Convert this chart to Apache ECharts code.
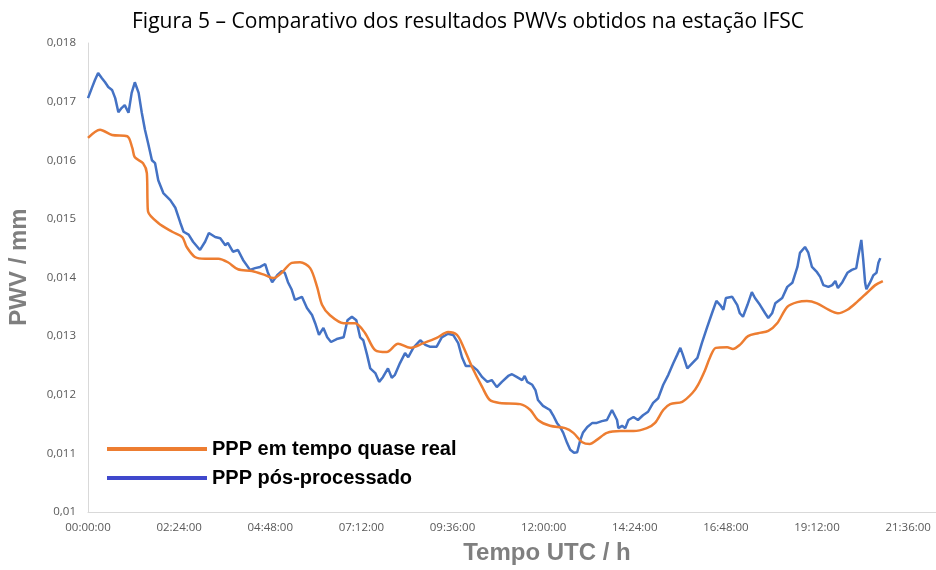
<!DOCTYPE html>
<html>
<head>
<meta charset="utf-8">
<title>Figura 5</title>
<script src="https://cdn.jsdelivr.net/npm/echarts@6/dist/echarts.min.js"></script>
<style>
  html, body { margin: 0; padding: 0; background: #fff; }
  #main { width: 936px; height: 570px; }
</style>
</head>
<body>
<div id="main"></div>
<script>
// tempo em minutos desde 00:00 UTC, PWV
var rtTime = [0, 19, 38, 62, 70, 74, 87, 93, 94, 95, 111, 133, 149, 156, 169, 185, 206, 221, 237, 259,
  280, 293, 306, 322, 335, 351, 362, 370, 382, 404, 422, 438, 454, 472, 490, 509, 530, 551, 569, 583,
  593, 607, 623, 635, 651, 683, 699, 711, 730, 754, 767, 781, 793, 804, 820, 841, 862, 883, 896, 909,
  920, 939, 955, 964, 975, 983, 992, 1010, 1019, 1030, 1043, 1059, 1075, 1089, 1105, 1121, 1136, 1152,
  1170, 1185, 1200, 1215, 1231, 1244, 1256];
var rtPwv = [0.01638, 0.01652, 0.01643, 0.01641, 0.01621, 0.01605, 0.01595, 0.01578, 0.01532, 0.01512,
  0.01493, 0.01478, 0.01469, 0.01452, 0.01435, 0.01432, 0.01432, 0.01426, 0.01414, 0.01411,
  0.01404, 0.01399, 0.01408, 0.01425, 0.01426, 0.01416, 0.01384, 0.01353, 0.01336, 0.01322,
  0.01322, 0.01305, 0.01276, 0.01273, 0.01287, 0.01280, 0.01288, 0.01297, 0.01307, 0.01302,
  0.01282, 0.01247, 0.01213, 0.01191, 0.01186, 0.01184, 0.01174, 0.01157, 0.01147, 0.01143,
  0.01135, 0.01119, 0.01116, 0.01123, 0.01135, 0.01138, 0.01138, 0.01143, 0.01152, 0.01174,
  0.01184, 0.01188, 0.01203, 0.01217, 0.01242, 0.01264, 0.01280, 0.01281, 0.01278, 0.01285,
  0.01300, 0.01305, 0.01309, 0.01322, 0.01350, 0.01358, 0.01360, 0.01356, 0.01345, 0.01339,
  0.01345, 0.01358, 0.01374, 0.01387, 0.01394];

var ppTime = [0, 6, 11, 16, 22, 27, 32, 38, 43, 48, 53, 58, 64, 69, 74, 80, 85, 90, 95, 101,
  106, 111, 119, 130, 138, 146, 151, 159, 166, 177, 185, 191, 201, 209, 217, 221, 229, 237, 245, 256,
  264, 272, 280, 284, 291, 299, 306, 311, 316, 322, 327, 338, 346, 354, 359, 365, 372, 378, 384, 393,
  404, 410, 417, 424, 430, 435, 441, 446, 454, 460, 466, 474, 480, 485, 493, 501, 506, 514, 525, 533,
  540, 551, 559, 569, 577, 585, 591, 597, 607, 615, 623, 631, 638, 646, 654, 664, 670, 678, 686, 690,
  694, 702, 707, 711, 719, 730, 735, 741, 746, 751, 757, 762, 768, 773, 778, 782, 789, 797, 804, 812,
  820, 828, 831, 836, 838, 844, 849, 854, 862, 869, 877, 885, 893, 901, 909, 917, 925, 931, 936, 940,
  947, 955, 963, 970, 978, 986, 993, 999, 1004, 1008, 1018, 1026, 1030, 1035, 1042, 1049, 1054, 1062,
  1070, 1075, 1081, 1086, 1097, 1105, 1113, 1121, 1125, 1133, 1138, 1144, 1152, 1157, 1162, 1170,
  1176, 1181, 1185, 1192, 1200, 1207, 1214, 1217, 1222, 1225, 1228, 1230, 1236, 1241, 1246, 1249, 1252];
var ppPwv = [0.01706, 0.01723, 0.01737, 0.01749, 0.01740, 0.01733, 0.01725, 0.01720, 0.01706, 0.01682,
  0.01689, 0.01694, 0.01681, 0.01715, 0.01733, 0.01715, 0.01681, 0.01652, 0.01629, 0.01600,
  0.01595, 0.01566, 0.01544, 0.01532, 0.01519, 0.01493, 0.01478, 0.01473, 0.01461, 0.01447,
  0.01461, 0.01476, 0.01469, 0.01467, 0.01455, 0.01459, 0.01444, 0.01447, 0.01430, 0.01413,
  0.01416, 0.01418, 0.01423, 0.01409, 0.01392, 0.01404, 0.01411, 0.01408, 0.01392, 0.01379,
  0.01362, 0.01367, 0.01348, 0.01336, 0.01322, 0.01302, 0.01314, 0.01298, 0.01290, 0.01295,
  0.01298, 0.01327, 0.01333, 0.01327, 0.01298, 0.01293, 0.01268, 0.01245, 0.01237, 0.01222,
  0.01230, 0.01245, 0.01229, 0.01234, 0.01254, 0.01271, 0.01264, 0.01280, 0.01293, 0.01285,
  0.01282, 0.01282, 0.01298, 0.01304, 0.01302, 0.01288, 0.01264, 0.01249, 0.01249, 0.01242,
  0.01230, 0.01222, 0.01225, 0.01213, 0.01222, 0.01232, 0.01235, 0.01230, 0.01225, 0.01232,
  0.01222, 0.01217, 0.01208, 0.01191, 0.01181, 0.01174, 0.01165, 0.01152, 0.01145, 0.01135,
  0.01118, 0.01106, 0.01101, 0.01102, 0.01123, 0.01135, 0.01145, 0.01152, 0.01152, 0.01155,
  0.01157, 0.01174, 0.01176, 0.01157, 0.01143, 0.01147, 0.01143, 0.01157, 0.01162, 0.01157,
  0.01165, 0.01171, 0.01186, 0.01194, 0.01217, 0.01234, 0.01254, 0.01268, 0.01280, 0.01268,
  0.01245, 0.01254, 0.01263, 0.01288, 0.01314, 0.01339, 0.01360, 0.01353, 0.01345, 0.01365,
  0.01367, 0.01353, 0.01339, 0.01333, 0.01353, 0.01375, 0.01365, 0.01353, 0.01339, 0.01331,
  0.01339, 0.01356, 0.01365, 0.01384, 0.01391, 0.01418, 0.01442, 0.01452, 0.01443, 0.01418,
  0.01409, 0.01401, 0.01387, 0.01384, 0.01387, 0.01394, 0.01382, 0.01392, 0.01408, 0.01413,
  0.01416, 0.01435, 0.01464, 0.01430, 0.01391, 0.01380, 0.01392, 0.01404, 0.01408, 0.01425, 0.01433];

var seriesNames = ['PPP em tempo quase real', 'PPP pós-processado'];

var orange = '#ed7d31';
var blue = '#4472c4';
var legendBlue = '#3f48cc';
var gray = '#595959';

function pairs(t, v) {
    var out = [];
    for (var i = 0; i < t.length; i++) out.push([t[i], v[i]]);
    return out;
}
function pad(n) { return (n < 10 ? '0' : '') + n; }

var chart = echarts.init(document.getElementById('main'));

var option = {
    backgroundColor: '#fff',
    animation: false,
    title: {
        text: 'Figura 5 – Comparativo dos resultados PWVs obtidos na estação IFSC',
        left: 'center',
        top: 7,
        textStyle: { fontFamily: 'Open Sans', fontSize: 21, fontWeight: 'normal', color: '#000' }
    },
    // titulos dos eixos desenhados a mao, o do x nao fica centrado no eixo
    graphic: [{
        type: 'text',
        x: 19, y: 267,
        rotation: Math.PI / 2,
        style: {
            text: 'PWV / mm', font: 'bold 24px "Liberation Sans"', fill: '#7f7f7f',
            textAlign: 'center', textVerticalAlign: 'middle'
        }
    }, {
        type: 'text',
        x: 547, y: 553,
        style: {
            text: 'Tempo UTC / h', font: 'bold 24px "Liberation Sans"', fill: '#7f7f7f',
            textAlign: 'center', textVerticalAlign: 'middle'
        }
    }],
    legend: {
        orient: 'vertical',
        left: 107,
        top: 439,
        padding: 0,
        icon: 'rect',
        itemWidth: 100,
        itemHeight: 4,
        itemGap: 9,
        textStyle: { fontFamily: 'Liberation Sans', fontSize: 20, fontWeight: 'bold', color: '#000' },
        data: [
            { name: seriesNames[0], itemStyle: { color: orange } },
            { name: seriesNames[1], itemStyle: { color: legendBlue } }
        ]
    },
    grid: { left: 88, right: 0, top: 43, bottom: 58 },
    xAxis: {
        type: 'value',
        min: 0,
        max: 1340,
        interval: 144,
        splitLine: { show: false },
        axisTick: { show: false },
        axisLine: { lineStyle: { color: '#d9d9d9' } },
        axisLabel: {
            color: gray, fontFamily: 'Open Sans', fontSize: 11.5, margin: 10,
            showMaxLabel: false,
            formatter: function (v) {
                return pad(Math.floor(v / 60)) + ':' + pad(v % 60) + ':00';
            }
        }
    },
    yAxis: {
        type: 'value',
        min: 0.01,
        max: 0.018,
        interval: 0.001,
        splitLine: { show: false },
        axisTick: { show: false },
        axisLine: { show: true, lineStyle: { color: '#d9d9d9' } },
        axisLabel: {
            color: gray, fontFamily: 'Open Sans', fontSize: 11.5, margin: 12,
            formatter: function (v) { return String(+v.toFixed(3)).replace('.', ','); }
        }
    },
    series: [{
        name: seriesNames[0],
        type: 'line',
        data: pairs(rtTime, rtPwv),
        showSymbol: false,
        smooth: 0.3,
        z: 3,
        lineStyle: { color: orange, width: 2.5 },
        itemStyle: { color: orange }
    }, {
        name: seriesNames[1],
        type: 'line',
        data: pairs(ppTime, ppPwv),
        showSymbol: false,
        z: 2,
        lineStyle: { color: blue, width: 2.5 },
        itemStyle: { color: blue }
    }]
};

chart.setOption(option);
</script>
</body>
</html>
